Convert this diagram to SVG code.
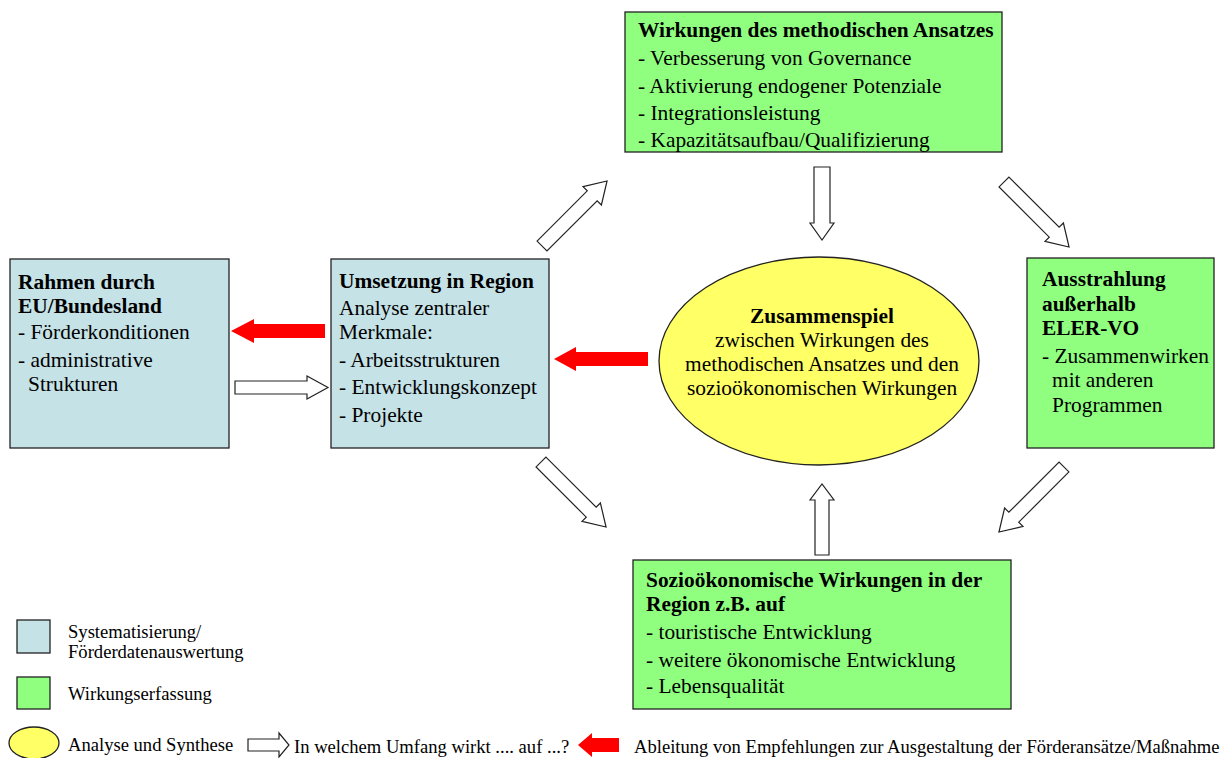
<svg xmlns="http://www.w3.org/2000/svg" xmlns:xlink="http://www.w3.org/1999/xlink" width="1231" height="758" viewBox="0 0 1231 758">
<style>
  text { font-family: "Liberation Serif", "Times New Roman", serif; font-size: 21.4px; fill: #000; }
  .b { font-weight: bold; }
  .lg { font-size: 18.6px; }
  .blue { fill: #c5e2e7; stroke: #222; stroke-width: 1.3; }
  .green { fill: #90ff80; stroke: #222; stroke-width: 1.3; }
  .yellow { fill: #ffff66; stroke: #222; stroke-width: 1.3; }
  .hollow { fill: #fff; stroke: #222; stroke-width: 1.2; }
  .red { fill: #ff0000; stroke: none; }
</style>
<defs>
  <path id="ha" d="M0,-7 H71 V-13 L92,0 L71,13 V7 H0 Z"/>
</defs>
<rect width="1231" height="758" fill="#fff"/>

<g id="connectors">
  <path class="red" d="M325,324 H254 V319 L231,331 L254,343 V338 H325 Z"/>
  <path class="hollow" d="M235,381 H307 V376 L328,387.5 L307,399 V394 H235 Z"/>
  <path class="red" d="M648,352 H576 V347 L554,359 L576,371 V366 H648 Z"/>
  <use xlink:href="#ha" class="hollow" transform="translate(542,246) rotate(-45)"/>
  <path class="hollow" d="M814,167 H830 V223 H834 L822,240 L810,223 H814 Z"/>
  <use xlink:href="#ha" class="hollow" transform="translate(1004,182) rotate(45)"/>
  <use xlink:href="#ha" class="hollow" transform="translate(541,462) rotate(45)"/>
  <path class="hollow" d="M815,555 H829 V500 H834 L822,484 L810,500 H815 Z"/>
  <use xlink:href="#ha" class="hollow" transform="translate(1064,467) rotate(135)"/>
</g>

<g id="rahmen">
  <rect class="blue" x="10" y="259" width="219" height="189"/>
  <text class="b" x="18" y="289">Rahmen durch</text>
  <text class="b" x="18" y="313">EU/Bundesland</text>
  <text x="18" y="339">- Förderkonditionen</text>
  <text x="18" y="367">- administrative</text>
  <text x="28" y="391">Strukturen</text>
</g>

<g id="umsetzung">
  <rect class="blue" x="331" y="259" width="218" height="189"/>
  <text class="b" x="339" y="288">Umsetzung in Region</text>
  <text x="339" y="315">Analyse zentraler</text>
  <text x="339" y="339">Merkmale:</text>
  <text x="339" y="367">- Arbeitsstrukturen</text>
  <text x="339" y="394">- Entwicklungskonzept</text>
  <text x="339" y="422">- Projekte</text>
</g>

<g id="wirkungen">
  <rect class="green" x="625" y="12" width="377" height="140"/>
  <text class="b" x="638" y="37">Wirkungen des methodischen Ansatzes</text>
  <text x="638" y="65">- Verbesserung von Governance</text>
  <text x="638" y="93">- Aktivierung endogener Potenziale</text>
  <text x="638" y="120">- Integrationsleistung</text>
  <text x="638" y="147">- Kapazitätsaufbau/Qualifizierung</text>
</g>

<g id="ausstrahlung">
  <rect class="green" x="1027" y="258" width="187" height="190"/>
  <text class="b" x="1042" y="286">Ausstrahlung</text>
  <text class="b" x="1042" y="311">außerhalb</text>
  <text class="b" x="1042" y="335">ELER-VO</text>
  <text x="1042" y="363">- Zusammenwirken</text>
  <text x="1052" y="387">mit anderen</text>
  <text x="1052" y="412">Programmen</text>
</g>

<g id="zusammenspiel">
  <ellipse class="yellow" cx="819" cy="361" rx="160" ry="104"/>
  <text class="b" x="822" y="323" text-anchor="middle">Zusammenspiel</text>
  <text x="822" y="347" text-anchor="middle">zwischen Wirkungen des</text>
  <text x="822" y="371" text-anchor="middle">methodischen Ansatzes und den</text>
  <text x="822" y="395" text-anchor="middle">sozioökonomischen Wirkungen</text>
</g>

<g id="sozio">
  <rect class="green" x="633" y="560" width="378" height="149"/>
  <text class="b" x="646" y="587">Sozioökonomische Wirkungen in der</text>
  <text class="b" x="646" y="611">Region z.B. auf</text>
  <text x="646" y="639">- touristische Entwicklung</text>
  <text x="646" y="667">- weitere ökonomische Entwicklung</text>
  <text x="646" y="693">- Lebensqualität</text>
</g>

<g id="legend">
  <rect class="blue" x="17" y="620" width="33" height="33"/>
  <text class="lg" x="68" y="638">Systematisierung/</text>
  <text class="lg" x="68" y="658">Förderdatenauswertung</text>
  <rect class="green" x="17" y="677" width="33" height="32"/>
  <text class="lg" x="68" y="700">Wirkungserfassung</text>
  <ellipse class="yellow" cx="34" cy="743" rx="25" ry="16"/>
  <text class="lg" x="68" y="751">Analyse und Synthese</text>
  <path class="hollow" d="M248,739 H279 V733 L289,745 L279,757 V751 H248 Z"/>
  <text class="lg" x="294" y="753">In welchem Umfang wirkt .... auf ...?</text>
  <path class="red" d="M619,738 H592 V733 L578,745 L592,757 V752 H619 Z"/>
  <text class="lg" x="634" y="753">Ableitung von Empfehlungen zur Ausgestaltung der Förderansätze/Maßnahme</text>
</g>
</svg>
